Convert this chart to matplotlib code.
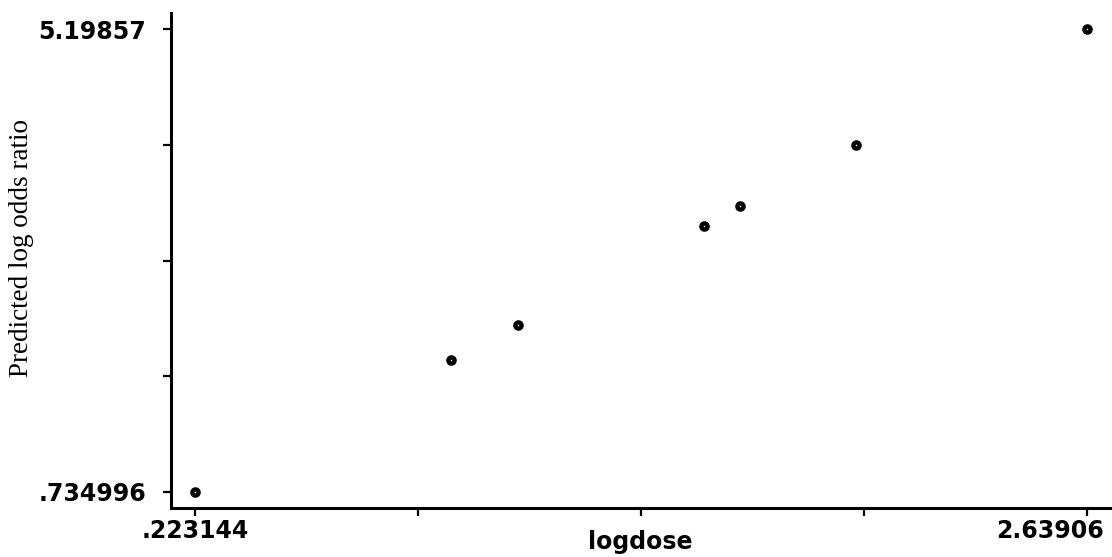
import numpy as np
import matplotlib
matplotlib.use("Agg")
import matplotlib.pyplot as plt
import matplotlib.transforms as mtransforms

# logdose vs predicted log odds ratio
logdose = [0.223144, 0.916, 1.099, 1.603, 1.700, 2.013, 2.63906]
pred_logodds = [0.734996, 2.006, 2.341, 3.303, 3.493, 4.079, 5.19857]

xticks = [0.223144, 0.827123, 1.431102, 2.035081, 2.63906]
xtick_labels = [".223144", "", "", "", "2.63906"]
yticks = [0.734996, 1.850890, 2.966783, 4.082677, 5.19857]
ytick_labels = [".734996", "", "", "", "5.19857"]

fig = plt.figure(figsize=(11.12, 5.57), dpi=100)
ax = fig.add_axes([171 / 1112, 1 - 508 / 557, (1110 - 171) / 1112, (508 - 13) / 557])

ax.plot(logdose, pred_logodds, 'o', markersize=4.4, markerfacecolor='white',
        markeredgecolor='black', markeredgewidth=3.2, linestyle='none')

ax.set_xlim(0.1581, 2.7014)
ax.set_ylim(0.5777, 5.3559)

for side in ['top', 'right']:
    ax.spines[side].set_visible(False)
for side in ['left', 'bottom']:
    ax.spines[side].set_linewidth(2.2)

tick_font = dict(family='DejaVu Sans', weight='bold', size=17)
ax.set_xticks(xticks)
ax.set_xticklabels(xtick_labels, **tick_font)
ax.set_yticks(yticks)
ax.set_yticklabels(ytick_labels, **tick_font)
ax.tick_params(axis='both', direction='out', width=1.6, length=6)
ax.tick_params(axis='y', pad=12)
ax.tick_params(axis='x', pad=2)

# last x label is pushed left so it stays inside the figure
last = ax.get_xticklabels()[-1]
last.set_horizontalalignment('right')
last.set_transform(last.get_transform() + mtransforms.ScaledTranslation(0.17, 0, fig.dpi_scale_trans))

ax.set_xlabel('logdose', fontfamily='DejaVu Sans', fontweight='bold', fontsize=17)
ax.xaxis.set_label_coords(0.5, -0.044)
ax.set_ylabel('Predicted log odds ratio', fontfamily='Liberation Serif', fontsize=19.5)
ax.yaxis.set_label_coords(-0.146, 0.525)

fig.savefig('out.png', dpi=100)
